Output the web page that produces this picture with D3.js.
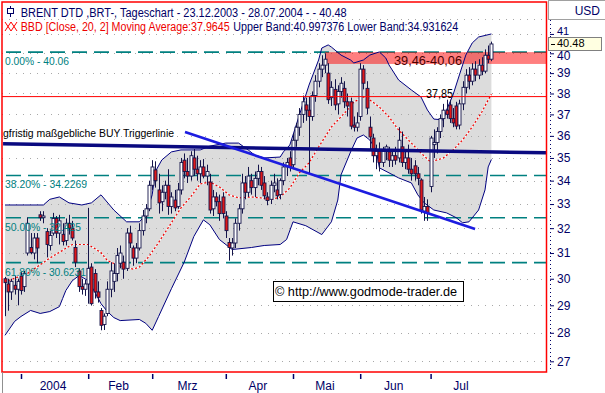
<!DOCTYPE html>
<html><head><meta charset="utf-8">
<script src="https://cdn.jsdelivr.net/npm/d3@7"></script>
<style>html,body{margin:0;padding:0;background:#fff;}svg{display:block;font-family:"Liberation Sans",Arial,sans-serif;}</style>
</head><body>
<svg id="c" width="605" height="393"></svg>
<script>
// ---------- DATA ----------
const monthLabels = ["2004","Feb","Mrz","Apr","Mai","Jun","Jul"];
const monthStarts = [5,26,46,69,90,111,133];   // trading-day index of the first day of each month
const lastIndex = 152;                          // 28.07.2004
const priceTicks = [27,28,29,30,31,32,33,34,35,36,37,38,39,40,41];

const opens  = [30.0,29.8,29.5,29.75,29.6,30.1,29.7,31.0,31.22,31.0,31.6,32.55,32.43,31.86,31.3,31.8,32.4,31.8,31.75,31.5,32.2,32.0,31.22,30.3,29.7,29.6,29.8,30.45,30.2,29.5,28.81,28.3,28.7,29.6,29.9,30.2,30.6,30.64,30.4,31.8,31.2,30.8,31.2,31.9,32.5,32.8,33.8,34.47,33.6,33.1,33.5,33.8,32.9,33.17,32.9,33.6,34.9,34.4,34.2,35.0,34.5,34.3,34.6,34.2,33.94,32.8,33.3,33.1,33.3,32.5,31.42,31.2,31.4,32.2,32.8,33.9,33.5,34.0,33.7,34.1,34.4,33.9,33.3,33.2,33.8,33.6,33.4,34.0,34.6,35.0,34.7,35.8,36.4,37.0,37.45,37.2,36.9,37.9,38.6,39.2,39.4,39.0,37.8,38.2,37.5,38.1,38.25,37.6,37.6,36.5,36.4,36.9,39.2,38.25,36.4,35.9,35.1,35.3,34.8,35.3,35.27,34.9,35.1,35.0,35.5,34.8,35.0,34.5,34.65,34.3,34.03,32.7,32.9,33.75,35.6,35.7,36.2,36.8,37.2,37.45,36.8,37.4,36.5,37.5,38.3,38.9,38.6,39.2,38.9,39.4,39.1,39.9,39.7];
const highs  = [30.07,30.0,30.0,30.1,30.0,30.25,30.3,32.45,31.8,31.8,31.8,32.7,32.7,32.0,31.9,32.63,32.5,32.55,32.2,32.4,32.55,32.3,31.5,30.4,30.0,29.95,32.84,30.6,30.37,29.9,28.9,28.7,29.9,30.64,30.6,31.2,31.3,30.9,32.0,32.1,31.3,31.4,32.2,32.75,33.0,34.0,34.9,34.85,34.3,33.8,34.0,34.5,33.5,33.6,33.9,35.0,35.2,35.0,35.3,35.4,35.1,34.9,34.95,34.7,34.3,33.6,33.5,33.4,33.5,32.7,31.6,31.6,32.4,33.0,34.3,34.2,34.6,34.3,34.4,34.7,34.6,34.2,33.5,34.0,34.3,34.1,34.1,34.8,35.0,35.3,36.1,36.6,37.3,37.9,37.8,37.85,38.1,38.9,39.5,39.9,40.0,39.5,38.6,38.7,38.4,38.8,38.6,38.0,37.8,36.9,37.1,39.5,39.4,38.6,36.9,36.1,35.6,35.7,35.5,35.6,35.5,35.4,35.5,36.4,36.2,35.4,35.6,35.0,34.9,34.6,34.1,33.3,33.2,36.0,36.3,36.4,37.0,37.5,37.7,37.7,37.3,37.6,37.7,38.6,39.2,39.3,39.5,39.6,39.7,39.8,40.2,40.4,40.6];
const lows   = [28.6,28.8,29.2,29.4,29.0,29.4,29.5,30.9,30.95,30.75,30.6,32.3,32.2,30.83,31.1,31.7,31.6,31.34,31.3,31.3,31.74,31.5,30.45,29.5,29.4,29.35,29.06,28.99,29.25,29.1,28.09,28.1,28.6,29.3,29.5,29.9,30.4,30.0,30.3,31.2,30.5,30.6,31.1,31.7,32.2,32.7,33.6,33.7,32.6,32.7,33.2,32.55,32.6,32.7,32.8,33.4,34.1,33.9,34.0,34.2,34.0,33.9,34.1,33.8,32.6,32.5,32.9,32.3,32.4,31.6,30.7,30.9,31.2,31.9,32.6,33.2,33.3,33.4,33.3,33.8,33.6,33.2,32.95,33.0,33.5,33.2,33.2,33.8,34.2,34.4,34.5,35.5,36.0,36.6,36.7,34.3,36.7,37.6,38.3,38.8,39.0,37.5,37.4,37.2,37.0,37.8,37.3,36.9,36.3,36.2,36.2,36.7,38.2,37.0,35.4,34.8,34.5,34.4,34.6,34.9,34.6,34.6,34.7,34.8,34.6,34.5,34.3,34.0,34.0,33.8,32.6,32.3,32.3,33.5,35.0,35.2,35.9,36.4,36.8,36.6,36.4,36.3,36.3,37.2,38.0,38.2,38.4,38.6,38.7,38.9,39.0,39.5,39.6];
const closes = [29.85,29.5,29.9,29.6,29.9,29.55,30.2,32.2,31.02,31.6,31.2,32.43,32.5,31.34,31.7,32.4,31.8,32.3,31.46,32.2,32.0,31.6,30.64,29.7,29.6,29.8,30.4,29.06,29.5,29.3,28.27,28.6,29.6,30.3,30.2,30.9,31.0,30.37,31.8,31.4,30.8,31.2,31.9,32.5,32.8,33.8,34.6,34.0,33.05,33.5,33.8,32.9,33.3,32.84,33.6,34.8,34.4,34.2,35.1,34.5,34.3,34.6,34.2,34.4,32.75,33.3,33.1,32.6,32.6,31.9,31.22,31.4,32.2,32.8,33.9,33.5,34.2,33.7,34.1,34.4,33.8,33.35,33.15,33.8,33.9,33.35,34.0,34.6,34.8,34.6,35.8,36.4,37.0,37.6,37.2,36.9,37.9,38.6,39.2,39.4,39.7,37.7,38.3,37.45,38.1,38.5,37.6,37.4,36.45,36.4,36.6,39.2,38.5,37.3,35.95,35.1,35.3,34.8,35.3,35.5,34.9,35.1,34.9,35.8,34.8,35.0,34.5,34.3,34.3,34.1,32.75,32.9,32.6,35.9,35.7,36.2,36.8,37.2,37.0,36.8,36.6,36.45,37.5,38.3,38.9,38.6,39.2,38.9,39.4,39.1,39.9,39.7,40.48];

// Bollinger band (20, 2)
const upperIdx = [0,6,12,14,17,20,24,27,30,34,38,42,44,46,47,49,52,55,61,64,69,73,76,78,81,86,87,89,92,95,98,99,101,102,105,108,109,112,114,117,119,120,123,127,130,132,134,137,138,140,142,144,146,148,152];
const upperVal = [32.96,32.96,32.96,33.2,33.3,33.05,32.96,33.05,33.39,32.75,32.26,32.26,32.55,33.39,34.4,34.91,35.27,35.36,35.36,35.53,35.67,35.67,35.36,35.13,35.0,35.04,35.27,35.58,36.97,38.41,39.66,40.27,40.43,40.32,39.91,39.66,39.51,39.66,39.91,40.07,39.76,39.41,38.66,38.17,37.83,37.21,36.78,36.74,37.21,37.93,38.91,39.91,40.53,40.84,41.0];
const lowerIdx = [0,3,5,8,11,14,17,18,19,21,23,24,26,28,30,32,34,36,42,44,46,48,52,56,59,62,64,67,71,77,81,86,88,90,94,99,102,104,105,108,110,112,114,116,117,120,123,127,129,131,134,138,141,143,145,148,150,151,152];
const lowerVal = [27.91,28.41,28.59,28.81,28.7,28.77,28.95,29.25,29.55,29.92,30.11,30.07,29.92,29.51,29.06,28.77,28.55,28.44,28.48,28.34,28.09,28.59,29.62,30.64,31.66,32.34,32.14,31.54,31.14,31.22,31.3,31.34,31.54,32.26,32.1,31.74,32.26,33.17,34.25,35.27,35.9,36.04,35.81,35.36,34.56,34.34,34.12,33.9,33.39,33.05,32.75,32.63,32.43,32.22,32.26,32.75,33.6,34.6,34.93];
const maIdx = [0,7,14,21,26,30,32,36,40,42,45,48,52,55,58,61,64,67,70,73,77,80,83,86,89,92,95,98,102,107,109,112,114,117,120,123,127,130,133,137,140,143,146,149,151,152];
const maVal = [29.88,30.2,30.8,31.34,31.34,31.02,30.7,30.49,30.37,30.45,30.87,31.42,32.22,32.84,33.3,33.86,33.94,33.73,33.39,33.26,33.3,33.26,33.17,33.3,33.68,34.34,34.78,35.49,36.41,37.21,37.59,37.83,37.69,37.35,36.88,36.27,35.67,35.22,34.82,35.0,35.36,35.81,36.41,37.11,37.69,37.96];

// drawing tools
const fibLevels = [40.06, 34.2269, 32.425, 30.6231];
const fibLabels = ["0.00% - 40.06", "38.20% - 34.2269", "50.00% - 32.425", "61.80% - 30.6231"];
const fibLabelWidths = [64, 82, 76, 81];
const resistance = 37.85, resistanceLabel = "37,85";
const zone = {low: 39.46, high: 40.06, startIdx: 100, label: "39,46-40,06"};
const triggerIdx = [-0.6, 169.1], triggerVal = [35.64, 35.23];
const triggerLabel = "gfristig maßgebliche BUY Triggerlinie";
const trendIdx = [56.25, 146.9], trendVal = [36.18, 31.97];
const lastPrice = "40.48";
const title1 = "BRENT DTD ,BRT-, Tageschart - 23.12.2003 - 28.07.2004 - - 40.48";
const title2a = "BBD [Close, 20, 2] Moving Average:37.9645";
const title2b = "Upper Band:40.997376 Lower Band:34.931624";
const copyright = "© http://www.godmode-trader.de";

// ---------- LAYOUT ----------
const svg = d3.select("#c");
const P = {l: 2, t: 2, r: 546.5, b: 372};
const x = d3.scaleLinear().domain([0, lastIndex]).range([5, 491.4]);
const y = d3.scaleLog().domain([27, 40]).range([361.3, 53.3]);
const navy = "#000066";

svg.append("defs").append("clipPath").attr("id","pc")
  .append("rect").attr("x",P.l).attr("y",P.t).attr("width",P.r-P.l).attr("height",P.b-P.t);
const plot = svg.append("g").attr("clip-path","url(#pc)");

// band fill
const ub = upperIdx.map((d,i)=>[d, upperVal[i]]);
const lb = lowerIdx.map((d,i)=>[d, lowerVal[i]]);
const ln = d3.line().x(d=>x(d[0])).y(d=>y(d[1]));
plot.append("path").attr("d", ln(ub.concat(lb.slice().reverse())) + "Z").attr("fill","#dcdcdc");

// gridlines
plot.selectAll("line.grid").data(priceTicks).join("line")
  .attr("x1",P.l).attr("x2",P.r).attr("y1",d=>Math.round(y(d))+0.5).attr("y2",d=>Math.round(y(d))+0.5)
  .attr("stroke","#a8a8a8").attr("stroke-dasharray","1,6");
svg.append("line").attr("x1",P.l).attr("x2",P.r).attr("y1",19.5).attr("y2",19.5)
  .attr("stroke","#a8a8a8").attr("stroke-dasharray","1,6");

// fibonacci lines
plot.selectAll("line.fib").data(fibLevels).join("line")
  .attr("x1",P.l+4).attr("x2",P.r).attr("y1",d=>y(d)).attr("y2",d=>y(d))
  .attr("stroke","#008080").attr("stroke-width",1.6).attr("stroke-dasharray","15,7");

// zone
plot.append("rect").attr("x",x(zone.startIdx)).attr("y",y(zone.high))
  .attr("width",P.r - x(zone.startIdx)).attr("height",y(zone.low)-y(zone.high))
  .attr("fill","#ff0000").attr("opacity",0.5);

// band lines
plot.append("path").attr("d",ln(ub)).attr("fill","none").attr("stroke","#000080").attr("stroke-width",1);
plot.append("path").attr("d",ln(lb)).attr("fill","none").attr("stroke","#000080").attr("stroke-width",1);

// moving average
const ma = maIdx.map((d,i)=>[d, maVal[i]]);
plot.append("path").attr("d",ln(ma)).attr("fill","none").attr("stroke","#ffffff").attr("stroke-width",1.2);
plot.append("path").attr("d",ln(ma)).attr("fill","none").attr("stroke","#ee0000").attr("stroke-width",1.2).attr("stroke-dasharray","2,2");

// candles
const candles = opens.map((o,i)=>({i, o, h: highs[i], l: lows[i], c: closes[i]}));
const cg = plot.append("g");
cg.selectAll("line").data(candles).join("line")
  .attr("x1",d=>Math.round(x(d.i))+0.5).attr("x2",d=>Math.round(x(d.i))+0.5)
  .attr("y1",d=>y(d.h)).attr("y2",d=>y(d.l)).attr("stroke","#14144a").attr("stroke-width",1);
cg.selectAll("rect").data(candles).join("rect")
  .attr("x",d=>Math.round(x(d.i))-1).attr("width",3)
  .attr("y",d=>y(Math.max(d.o,d.c)))
  .attr("height",d=>Math.max(1, y(Math.min(d.o,d.c)) - y(Math.max(d.o,d.c))))
  .attr("fill",d=>d.c < d.o ? "#e01818" : "#ffffff")
  .attr("stroke","#14144a").attr("stroke-width",0.9);

// resistance line
plot.append("line").attr("x1",P.l).attr("x2",P.r).attr("y1",y(resistance)).attr("y2",y(resistance))
  .attr("stroke","#ff0000").attr("stroke-width",1);

// trigger line
const trig = triggerIdx.map((d,i)=>[d, triggerVal[i]]);
plot.append("path").attr("d",ln(trig)).attr("stroke","#0a0a80").attr("stroke-width",3.5).attr("fill","none");
// trend line
const trend = trendIdx.map((d,i)=>[d, trendVal[i]]);
plot.append("path").attr("d",ln(trend)).attr("stroke","#1c1ce0").attr("stroke-width",2.6).attr("fill","none");

// labels inside plot
plot.selectAll("text.fib").data(fibLevels).join("text")
  .attr("x",5).attr("y",d=>y(d)+13).attr("fill","#008080").attr("font-size",11)
  .attr("textLength",(d,i)=>fibLabelWidths[i]).attr("lengthAdjust","spacingAndGlyphs")
  .text((d,i)=>fibLabels[i]);
plot.append("text").attr("x",3).attr("y",y(triggerVal[0])-7).attr("font-size",11.5).attr("fill","#000")
  .attr("textLength",171).attr("lengthAdjust","spacingAndGlyphs").text(triggerLabel);
plot.append("text").attr("x",426).attr("y",y(resistance)+1).attr("font-size",13).attr("fill","#000")
  .attr("textLength",27).attr("lengthAdjust","spacingAndGlyphs").text(resistanceLabel);
plot.append("text").attr("x",394).attr("y",y(zone.low)+1).attr("font-size",13).attr("fill","#4a0000")
  .attr("textLength",68).attr("lengthAdjust","spacingAndGlyphs").text(zone.label);

// copyright box
svg.append("rect").attr("x",273.5).attr("y",281.5).attr("width",190).attr("height",20)
  .attr("fill","#fff").attr("stroke","#000").attr("stroke-width",1);
svg.append("text").attr("x",275).attr("y",296).attr("font-size",12).attr("fill","#000")
  .attr("textLength",182).attr("lengthAdjust","spacingAndGlyphs").text(copyright);

// header
svg.append("line").attr("x1",10.5).attr("x2",10.5).attr("y1",6).attr("y2",17).attr("stroke",navy);
svg.append("rect").attr("x",7.5).attr("y",8.5).attr("width",6).attr("height",5).attr("fill","#fff").attr("stroke",navy);
svg.append("text").attr("x",20.7).attr("y",16.5).attr("font-size",12).attr("fill",navy)
  .attr("textLength",326).attr("lengthAdjust","spacingAndGlyphs").text(title1);
[5,11].forEach(ox=>{
  svg.append("path").attr("d",`M${ox},22 L${ox+6},31 M${ox+6},22 L${ox},31`).attr("stroke","#ff0000").attr("stroke-width",1);
});
svg.append("text").attr("x",20.7).attr("y",31).attr("font-size",12).attr("fill","#ee0000")
  .attr("textLength",209).attr("lengthAdjust","spacingAndGlyphs").text(title2a);
svg.append("text").attr("x",233.3).attr("y",31).attr("font-size",12).attr("fill",navy)
  .attr("textLength",225).attr("lengthAdjust","spacingAndGlyphs").text(title2b);

// plot border
svg.append("rect").attr("x",P.l).attr("y",P.t).attr("width",P.r-P.l).attr("height",P.b-P.t)
  .attr("fill","none").attr("stroke","#ff0000").attr("stroke-width",1.5);
svg.append("line").attr("x1",2.5).attr("x2",2.5).attr("y1",P.b).attr("y2",393).attr("stroke","#909090");

// right axis
const ax = svg.append("g").attr("transform","translate(550,0)")
  .call(d3.axisRight(y).tickValues(priceTicks).tickFormat(d3.format("d")).tickSize(4).tickPadding(3));
ax.select(".domain").remove();
ax.selectAll("line").attr("stroke",navy);
ax.selectAll("text").attr("fill",navy).attr("font-size",12).attr("font-family","Liberation Sans, Arial, sans-serif");
ax.selectAll(".tick").filter(d=>d===41).select("text").attr("font-size",11).attr("dy","0.05em");
ax.selectAll(".tick").filter(d=>d===40).select("text").attr("dy","0.55em");
svg.append("line").attr("x1",550.5).attr("x2",550.5).attr("y1",20).attr("y2",P.b).attr("stroke",navy).attr("stroke-dasharray","1,3");

// USD header box
svg.append("rect").attr("x",548.5).attr("y",0.5).attr("width",57).attr("height",19).attr("fill","#fff").attr("stroke","#a0a0a0");
svg.append("text").attr("x",600).attr("y",15).attr("text-anchor","end").attr("font-size",12).attr("fill",navy).text("USD");

// last price box
svg.append("rect").attr("x",548.5).attr("y",37.5).attr("width",53).attr("height",13).attr("fill","#ffffe1").attr("stroke","#808080");
svg.append("line").attr("x1",551).attr("x2",555).attr("y1",44.5).attr("y2",44.5).attr("stroke","#000");
svg.append("text").attr("x",557).attr("y",46.8).attr("font-size",11).attr("fill","#000").text(lastPrice);

// bottom axis
const bx = svg.append("g").attr("transform",`translate(0,${P.b+2})`)
  .call(d3.axisBottom(x).tickValues(monthStarts).tickFormat("").tickSize(5));
bx.select(".domain").remove();
bx.selectAll("line").attr("stroke",navy).attr("stroke-width",1.5);
const monthEnds = monthStarts.slice(1).concat([lastIndex + 1]);
svg.selectAll("text.month").data(monthLabels).join("text")
  .attr("x",(d,i)=>x((monthStarts[i] + monthEnds[i] - 1)/2)).attr("y",390)
  .attr("text-anchor","middle").attr("font-size",12).attr("fill",navy).text(d=>d);
</script>
</body></html>
